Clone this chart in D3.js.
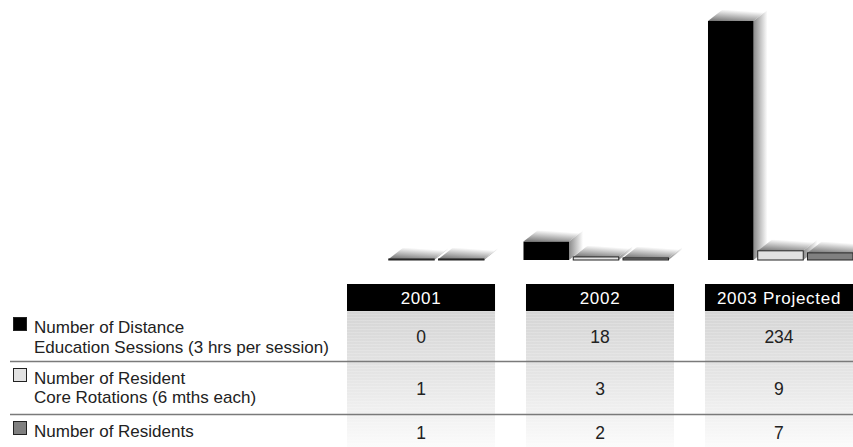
<!DOCTYPE html>
<html><head><meta charset="utf-8">
<script src="https://cdn.jsdelivr.net/npm/d3@7"></script>
<style>html,body{margin:0;padding:0;background:#fff;}svg{display:block;}</style>
</head><body>
<script>
// ---- data ----
const years = ["2001", "2002", "2003 Projected"];
const seriesKeys = ["sessions", "rotations", "residents"];
const seriesLabels = [
  ["Number of Distance", "Education Sessions (3 hrs per session)"],
  ["Number of Resident", "Core Rotations (6 mths each)"],
  ["Number of Residents"]
];
const sessions = [0, 18, 234];
const rotations = [1, 3, 9];
const residents = [1, 2, 7];
const seriesValues = [sessions, rotations, residents];
const seriesFill = ["#000000", "#e2e2e2", "#808080"];

const W = 853, H = 447;
const svg = d3.select("body").append("svg").attr("width", W).attr("height", H);
const defs = svg.append("defs");
const FONT = "'Liberation Sans', Arial, sans-serif";

// gradients
const gCell = defs.append("linearGradient").attr("id", "cell").attr("x1", 0).attr("y1", 0).attr("x2", 0).attr("y2", 1);
gCell.append("stop").attr("offset", 0).attr("stop-color", "#d5d5d5");
gCell.append("stop").attr("offset", 0.5).attr("stop-color", "#e6e6e6");
gCell.append("stop").attr("offset", 1).attr("stop-color", "#fbfbfb");
const gSide = defs.append("linearGradient").attr("id", "side").attr("x1", 0).attr("y1", 0).attr("x2", 1).attr("y2", 0);
gSide.append("stop").attr("offset", 0).attr("stop-color", "#8a8a8a");
gSide.append("stop").attr("offset", 1).attr("stop-color", "#ffffff");
const gTop = defs.append("linearGradient").attr("id", "top").attr("x1", 0).attr("y1", 1).attr("x2", 0.4).attr("y2", 0);
gTop.append("stop").attr("offset", 0).attr("stop-color", "#707070");
gTop.append("stop").attr("offset", 1).attr("stop-color", "#ffffff");

// ---- table layout ----
const colX = d3.scaleBand().domain(years).range([347, 853]).paddingInner(0.173).paddingOuter(0);
const headerTop = 284, headerBot = 311;
const rowBounds = [311, 361, 414, 447];

// cells
svg.append("g").selectAll("rect").data(years).join("rect")
  .attr("x", d => colX(d)).attr("y", headerBot)
  .attr("width", colX.bandwidth()).attr("height", H - headerBot)
  .attr("fill", "url(#cell)");
const stripes = d3.range(headerBot, H, 3);
years.forEach(y => {
  svg.append("g").selectAll("line").data(stripes).join("line")
    .attr("x1", colX(y)).attr("x2", colX(y) + colX.bandwidth())
    .attr("y1", d => d + 0.5).attr("y2", d => d + 0.5)
    .attr("stroke", "#ffffff").attr("stroke-opacity", 0.18);
});

// headers
svg.append("g").selectAll("rect").data(years).join("rect")
  .attr("x", d => colX(d)).attr("y", headerTop)
  .attr("width", colX.bandwidth()).attr("height", headerBot - headerTop)
  .attr("fill", "#000");
svg.append("g").selectAll("text").data(years).join("text")
  .attr("x", d => colX(d) + colX.bandwidth() / 2).attr("y", 304)
  .attr("text-anchor", "middle").attr("fill", "#fff")
  .style("font-family", FONT).style("font-size", "17px").style("letter-spacing", "0.7px").text(d => d);

// dividers
svg.append("g").selectAll("line").data(rowBounds.slice(1, 3)).join("line")
  .attr("x1", 10).attr("x2", W).attr("y1", d => d + 0.5).attr("y2", d => d + 0.5)
  .attr("stroke", "#7a7a7a").attr("stroke-width", 1.3);

// row values
const valueBase = [343, 395, 439];
seriesValues.forEach((vals, i) => {
  svg.append("g").selectAll("text").data(vals).join("text")
    .attr("x", (d, j) => colX(years[j]) + colX.bandwidth() / 2)
    .attr("y", valueBase[i])
    .attr("text-anchor", "middle").attr("fill", "#222")
    .style("font-family", FONT).style("font-size", "17.5px").text(d => d);
});

// legend labels
const labelBase = [[333, 353], [384, 403], [437]];
seriesLabels.forEach((lines, i) => {
  svg.append("rect").attr("x", 13.5).attr("y", labelBase[i][0] - 15.5).attr("width", 13).attr("height", 13)
    .attr("fill", seriesFill[i]).attr("stroke", "#222").attr("stroke-width", 1);
  svg.append("g").selectAll("text").data(lines).join("text")
    .attr("x", 34).attr("y", (d, k) => labelBase[i][k])
    .attr("fill", "#222").style("font-family", FONT).style("font-size", "17px").text(d => d);
});

// ---- bars ----
const x0 = d3.scaleBand().domain(years).range([339, 853]).paddingInner(0.214).paddingOuter(0);
const x1 = d3.scaleBand().domain(seriesKeys).range([0, x0.bandwidth()]).paddingInner(0.085).paddingOuter(0);
const y = d3.scaleLinear().domain([0, 234]).range([260, 21]);
const DX = 14, DY = -11;

const bars = [];
years.forEach((yr, j) => seriesKeys.forEach((k, i) => {
  bars.push({ yr, k, i, v: seriesValues[i][j] });
}));
const visible = bars.filter(b => b.v > 0);

const gBars = svg.append("g");
visible.forEach(b => {
  const xl = x0(b.yr) + x1(b.k), xr = xl + x1.bandwidth();
  const yt = y(b.v), yb = y(0);
  gBars.append("path")
    .attr("d", `M${xr},${yt}L${xr + DX},${yt + DY}L${xr + DX},${yb + DY}L${xr},${yb}Z`)
    .attr("fill", "url(#side)");
  gBars.append("path")
    .attr("d", `M${xl},${yt}L${xl + DX},${yt + DY}L${xr + DX},${yt + DY}L${xr},${yt}Z`)
    .attr("fill", "url(#top)");
  gBars.append("rect")
    .attr("x", xl).attr("y", yt).attr("width", xr - xl).attr("height", Math.max(1, yb - yt))
    .attr("fill", seriesFill[b.i]).attr("stroke", b.i === 0 ? "none" : "#222").attr("stroke-width", 1);
});
</script>
</body></html>
